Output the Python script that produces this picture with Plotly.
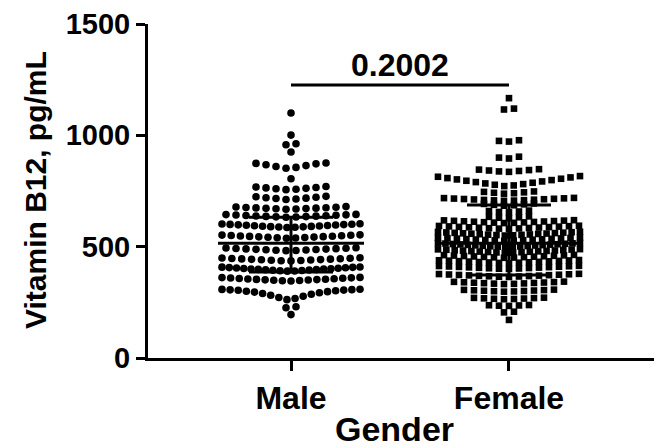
import numpy as np
import plotly.graph_objects as go

# ---------------- data ----------------
groups = ["Male", "Female"]
group_pos = [0, 1]

male_values = [
    1100, 1001, 958, 962, 925,
    852, 856, 860, 864, 868, 872, 874, 876,
    805,
    756, 758, 760, 762, 764, 766, 768, 770,
    712, 714, 716, 718, 720, 722, 724, 726,
    668, 669, 670, 671, 672, 673, 674, 675, 676, 677, 678, 680,
    632, 633, 634, 635, 636, 637, 638, 639, 640, 641, 642, 643, 644, 645,
    586, 587, 588, 589, 590, 591, 592, 593, 594, 595, 596, 597, 598, 599, 600, 601, 602, 603,
    538, 539, 540, 541, 542, 543, 544, 545, 546, 547, 548, 549, 550, 551, 552, 553,
    482, 483, 484, 485, 486, 487, 488, 489, 490, 491, 492, 493, 494, 495,
    436, 437, 438, 439, 440, 441, 442, 443, 444, 445, 446, 447, 448, 449, 450,
    390, 391, 392, 393, 394, 395, 396, 397, 398, 399, 400, 401, 402, 403, 404, 405, 406, 407, 408, 409,
    346, 347, 348, 349, 350, 351, 352, 353, 354, 355, 356, 357, 358, 359, 360, 361, 362,
    262, 267, 272, 277, 282, 286, 290, 293, 296, 298, 300, 302, 304, 305, 306, 307, 308, 309,
    226, 230, 195,
]

female_values = [
    1167, 1116, 1120, 972, 975, 978, 896, 900, 904,
    836, 838, 840, 842, 844, 846, 848,
    772, 775, 778, 781, 784, 787, 790, 793, 796, 799, 802, 805, 808, 811, 814, 817,
    738, 740, 742, 744, 746, 748,
    706, 707, 708, 709, 710, 711, 712, 713, 714, 715, 716, 717, 718, 719,
    684, 686, 688, 690, 692, 694,
    654, 656, 658, 660, 662,
    628, 630, 632, 634, 636,
    606, 607, 608, 609, 610, 611, 612, 613, 614, 615, 616, 617, 618, 619,
    580, 581, 582, 583, 584, 585, 586, 587, 588, 589, 590, 591, 592, 593, 594,
    550, 551, 552, 553, 554, 555, 556, 557, 558, 559, 560, 561, 562, 563, 564, 565, 566, 567,
    526, 527, 528, 529, 530, 531, 532, 533, 534, 535, 536, 537, 538, 539, 540, 541,
    498, 499, 500, 501, 502, 503, 504, 505, 506, 507, 508, 509, 510, 511, 512, 513, 514, 515, 516, 517,
    472, 473, 474, 475, 476, 477, 478, 479, 480, 481, 482, 483, 484, 485, 486, 487, 488, 489,
    450, 451, 452, 453, 454, 455, 456, 457, 458, 459, 460, 461, 462, 463,
    426, 427, 428, 429, 430, 431, 432, 433, 434, 435, 436, 437, 438, 439, 440,
    400, 401, 402, 403, 404, 405, 406, 407, 408, 409, 410, 411, 412, 413, 414,
    364, 365, 366, 367, 368, 369, 370, 371, 372, 373, 374, 375, 376, 377, 378,
    332, 333, 334, 335, 336, 337, 338, 339, 340, 341, 342, 343,
    298, 299, 300, 301, 302, 303, 304, 305, 306, 307,
    264, 265, 266, 267, 268, 269, 270, 271,
    234, 235, 236, 237, 238,
    205, 208, 171,
]

# summary lines: [lower cap, centre line, upper cap]
male_summary = [386, 515, 632]
female_summary = [373, 515, 687]

p_value_label = "0.2002"
p_bar_level = 1226
p_text_level = 1316

y_ticks = [0, 500, 1000, 1500]
y_title = "Vitamin B12, pg/mL"
x_title = "Gender"

# ---------------- layout geometry ----------------
# the page body adds an 8 px margin, so the figure is 8 px smaller each way
W, H = 654, 440
margin = dict(l=140, r=0, t=16, b=90)
plot_w = W - margin["l"] - margin["r"]
plot_h = H - margin["t"] - margin["b"]
x_range = [-0.656, 1.702]
y_range = [0, 1500]
px_per_x = plot_w / (x_range[1] - x_range[0])
x_axis_px = H - margin["b"]

FONT = "Liberation Sans, Arial, Helvetica, sans-serif"


def swarm_offsets(values, spacing_px=10.0, max_width_px=140.0, gap=6.0):
    """Prism-like row layout: close values share a row, spread centre-out."""
    vals = np.asarray(values, float)
    order = np.argsort(vals, kind="stable")
    offsets = np.zeros(len(vals))
    rows, current = [], [order[0]]
    for a, b in zip(order[:-1], order[1:]):
        if vals[b] - vals[a] > gap:
            rows.append(current)
            current = [b]
        else:
            current.append(b)
    rows.append(current)
    for row in rows:
        n = len(row)
        s = spacing_px if n <= 1 else min(spacing_px, max_width_px / (n - 1))
        slots = (np.arange(n) - (n - 1) / 2.0) * s
        slot_order = sorted(range(n), key=lambda i: (abs(slots[i]), slots[i]))
        for idx, si in zip(row, slot_order):
            offsets[idx] = slots[si]
    return offsets / px_per_x


fig = go.Figure()

series = [
    (male_values, male_summary, "circle", 7.6, 138.0),
    (female_values, female_summary, "square", 6.6, 142.0),
]

for pos, (vals, summ, sym, msize, maxw) in zip(group_pos, series):
    xo = swarm_offsets(vals, spacing_px=10.0, max_width_px=maxw)
    fig.add_trace(go.Scatter(
        x=pos + xo, y=vals, mode="markers",
        marker=dict(symbol=sym, size=msize, color="black", line=dict(width=0)),
        hoverinfo="y", showlegend=False,
    ))

for pos, (vals, summ, sym, msize, maxw) in zip(group_pos, series):
    lo, mid, hi = summ
    hw_mid = 73 / px_per_x
    hw_cap = 42 / px_per_x
    xs = [pos - hw_mid, pos + hw_mid, None,
          pos - hw_cap, pos + hw_cap, None,
          pos - hw_cap, pos + hw_cap, None,
          pos, pos]
    ys = [mid, mid, None, hi, hi, None, lo, lo, None, lo, hi]
    fig.add_trace(go.Scatter(
        x=xs, y=ys, mode="lines", line=dict(color="black", width=3),
        hoverinfo="skip", showlegend=False,
    ))

# significance bar
fig.add_trace(go.Scatter(
    x=[group_pos[0], group_pos[1]], y=[p_bar_level, p_bar_level], mode="lines",
    line=dict(color="black", width=3), hoverinfo="skip", showlegend=False,
))

fig.add_annotation(
    x=(group_pos[0] + group_pos[1]) / 2, y=p_text_level, xref="x", yref="y",
    text=p_value_label, showarrow=False,
    font=dict(family=FONT, size=32, color="black", weight=700),
    xanchor="center", yanchor="middle",
)

fig.add_annotation(
    x=(27 - margin["l"]) / plot_w, y=(x_axis_px - 182) / plot_h, xref="paper", yref="paper",
    text=y_title, textangle=-90, showarrow=False,
    font=dict(family=FONT, size=30, color="black", weight=700),
    xanchor="center", yanchor="middle",
)

fig.add_annotation(
    x=(386 - margin["l"]) / plot_w, y=(x_axis_px - 421) / plot_h, xref="paper", yref="paper",
    text=x_title, showarrow=False,
    font=dict(family=FONT, size=34, color="black", weight=700),
    xanchor="center", yanchor="middle",
)

fig.update_xaxes(
    range=x_range, tickvals=group_pos, ticktext=groups,
    showline=True, linewidth=3, linecolor="black",
    ticks="outside", ticklen=10, tickwidth=3, tickcolor="black",
    tickfont=dict(family=FONT, size=32, color="black", weight=700),
    showgrid=False, zeroline=False,
)
fig.update_yaxes(
    range=y_range, tickvals=y_ticks,
    showline=True, linewidth=3, linecolor="black",
    ticks="outside", ticklen=9, tickwidth=3, tickcolor="black",
    tickfont=dict(family=FONT, size=29, color="black", weight=700),
    showgrid=False, zeroline=False,
)

fig.update_layout(
    width=W, height=H, margin=margin,
    paper_bgcolor="white", plot_bgcolor="white",
    showlegend=False,
)

fig.write_html("out.html")
